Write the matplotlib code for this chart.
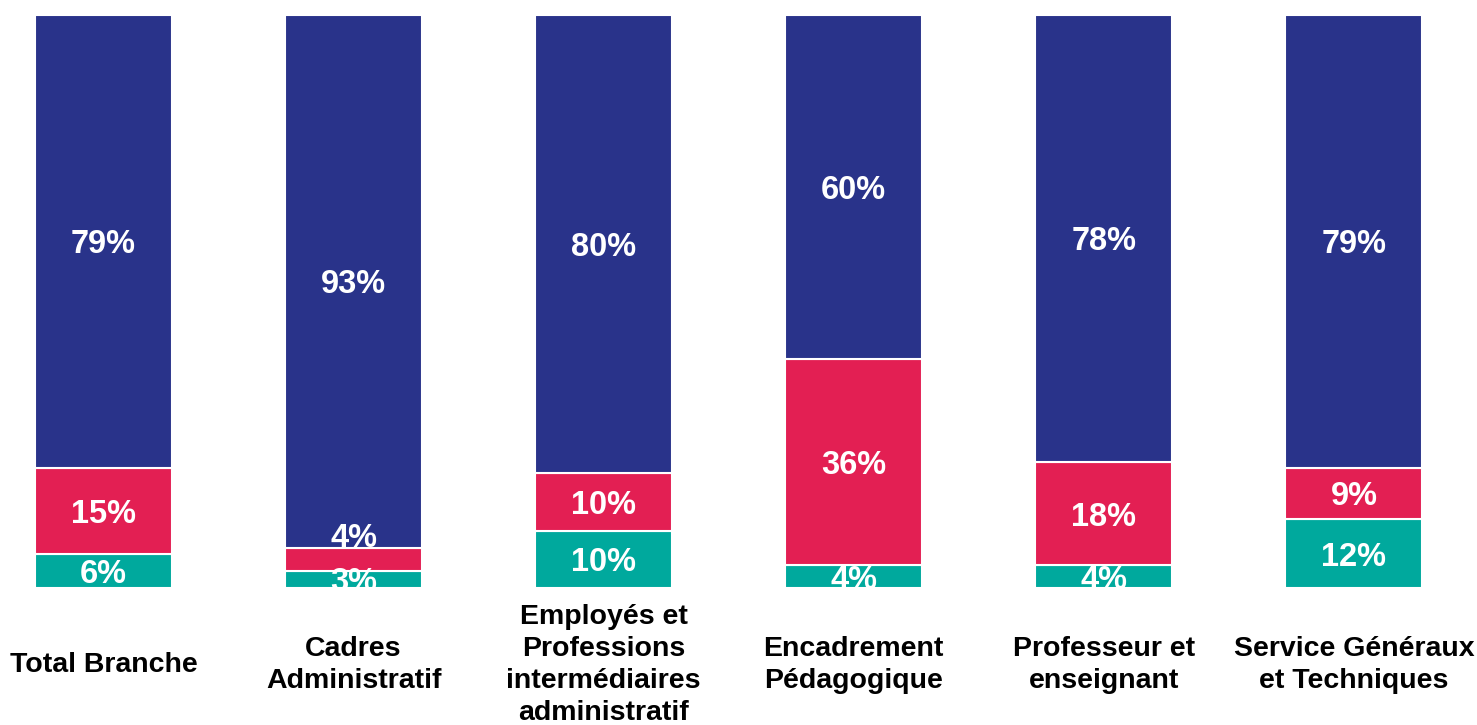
import matplotlib.pyplot as plt
import matplotlib.transforms as mtransforms

categories = ["Total Branche", "Cadres\nAdministratif",
              "Employés et\nProfessions\nintermédiaires\nadministratif",
              "Encadrement\nPédagogique", "Professeur et\nenseignant",
              "Service Généraux\net Techniques"]
bottom_vals = [6, 3, 10, 4, 4, 12]
middle_vals = [15, 4, 10, 36, 18, 9]
top_vals = [79, 93, 80, 60, 78, 79]

colors = ["#00A99D", "#E31F53", "#29338A"]

plt.rcParams['font.family'] = ['Liberation Sans', 'DejaVu Sans']

fig = plt.figure(figsize=(14.77, 7.25), dpi=100)
ax = fig.add_axes([3.5 / 1477, 137 / 725, 1450.5 / 1477, 573 / 725])

x = list(range(len(categories)))
width = 0.548
series = [bottom_vals, middle_vals, top_vals]
base = [0] * len(x)
centers = []
for vals, col in zip(series, colors):
    ax.bar(x, vals, width, bottom=base, color=col, edgecolor="white", linewidth=1.5)
    centers.append([b + v / 2 for b, v in zip(base, vals)])
    base = [b + v for b, v in zip(base, vals)]

# shift labels down a few pixels to sit like the original
down = mtransforms.offset_copy(ax.transData, fig=fig, x=0, y=-3.5, units="dots")
for k, vals in enumerate(series):
    for i, v in enumerate(vals):
        y = centers[k][i]
        # push a label up when it would collide with the one below it
        if k == 1 and y - centers[0][i] < 4:
            y = centers[0][i] + 7.7
        ax.text(i, y, f"{v}%", ha="center", va="center", color="white",
                fontsize=23.5, fontweight="bold", clip_on=True, transform=down)

trans = mtransforms.blended_transform_factory(ax.transData, ax.transAxes)
for i, cat in enumerate(categories):
    ax.text(i, -0.134, cat, transform=trans, ha="center", va="center",
            fontsize=20.5, fontweight="bold", color="black", linespacing=1.3)

ax.set_xlim(-0.4, 5.4)
ax.set_ylim(0, 100)
ax.axis("off")

fig.savefig("out.png", dpi=100)
